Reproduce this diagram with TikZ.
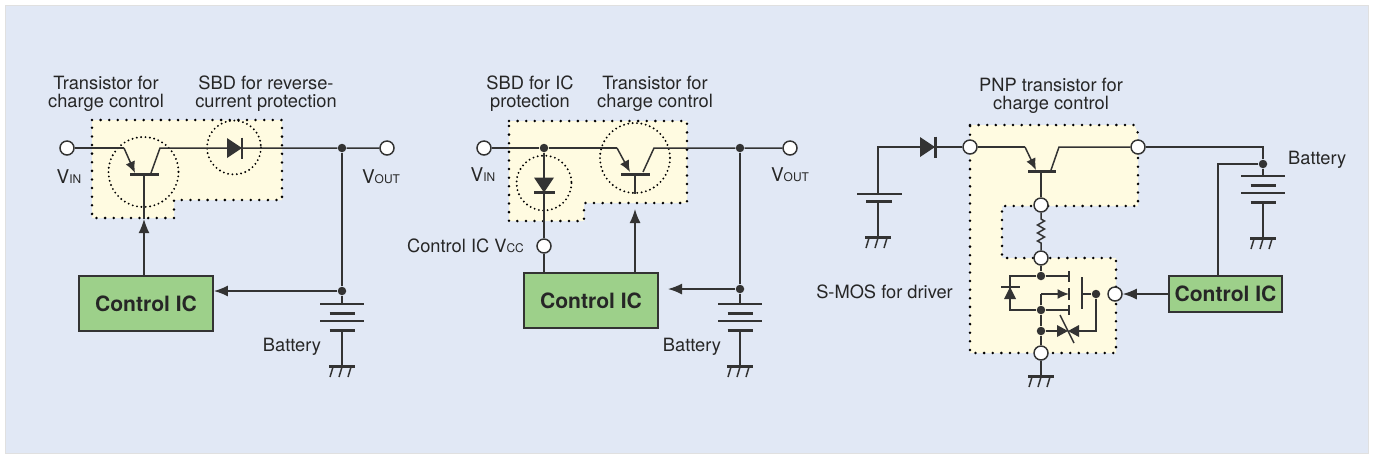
\documentclass[tikz,border=0pt]{standalone}
\usepackage{fontspec}
\setmainfont{TeX Gyre Heros}
\usetikzlibrary{arrows.meta}

\definecolor{bgblue}{HTML}{E1E8F5}
\definecolor{padyellow}{HTML}{FFFBE1}
\definecolor{icgreen}{HTML}{9DD08A}
\definecolor{wirec}{HTML}{333333}

\newcommand{\vsub}[1]{{\fontsize{10.8}{12}\selectfont V}{\fontsize{6.8}{7}\selectfont #1}}

\tikzset{
  wire/.style={draw=wirec, line width=0.85pt},
  plate/.style={draw=wirec, line width=1.7pt},
  pad/.style={fill=padyellow, draw=black, line width=1.6pt, dash pattern=on 0pt off 4.9pt, line cap=round},
  ring/.style={draw=black, line width=1.2pt, dash pattern=on 0pt off 2.5pt, line cap=round},
  term/.style={circle, draw=wirec, fill=white, line width=0.85pt, minimum size=0.28cm, inner sep=0pt},
  dot/.style={circle, fill=wirec, minimum size=0.17cm, inner sep=0pt},
  icbox/.style={draw=wirec, fill=icgreen, line width=1pt, minimum width=2.68cm, minimum height=1.1cm,
    font=\fontsize{12}{14}\selectfont\bfseries, text=black!85},
  lbl/.style={font=\fontsize{10.4}{10.4}\selectfont, text=black!85, align=center},
  sig/.style={wire, -{Latex[length=2.8mm,width=2.2mm]}},
  emit/.style={wire, -{Latex[length=2.3mm,width=2mm]}},
  gnd/.pic={
    \draw[plate] (-13,0) -- (13,0);
    \draw[wire] (-9,1) -- (-12,11) (0,1) -- (-3,11) (9,1) -- (6,11);
  },
  cells/.pic={
    \draw[wire] (-22,0) -- (22,0) (-22,17) -- (22,17);
    \draw[plate] (-12.5,9) -- (12.5,9) (-12.5,26) -- (12.5,26);
  },
  diode/.pic={
    \fill[wirec] (-7.5,-10) -- (7.5,0) -- (-7.5,10) -- cycle;
    \draw[plate] (7.5,-10.5) -- (7.5,10.5);
  },
}

\begin{document}
\begin{tikzpicture}[x=0.02cm, y=-0.02cm]
  \useasboundingbox (0,0) rectangle (1373,458);
  % Background
  \draw[fill=bgblue, draw=black!12] (5,5) rectangle (1368,453);

  % ---------------- Left circuit ----------------
  \draw[pad] (92,120) -- (282,120) -- (282,200) -- (174,200) -- (174,218) -- (92,218) -- cycle;
  \draw[ring] (143.5,172) circle[radius=35];
  \draw[ring] (234,147.5) circle[radius=27];

  \node[term] (vin1) at (67,148) {};
  \node[term] (vout1) at (387,148) {};
  \node[dot] (j1) at (342,148) {};
  \node[dot] (j2) at (342,291) {};
  \node[icbox] (ic1) at (146,303.5) {Control IC};
  \coordinate (e1) at (124,148);
  \coordinate (eb1) at (135,173);
  \coordinate (cb1) at (151,173);
  \coordinate (c1) at (160,148);
  \coordinate (b1) at (144,174);

  % Transistor for charge control
  \draw[wire] (vin1) -- (e1);
  \draw[emit] (e1) -- (eb1);
  \draw[wire] (cb1) -- (c1) -- (j1) -- (vout1);
  \draw[plate] (130,174) -- (159,174);
  \draw[sig] (b1 |- ic1.north) -- (144,219) coordinate (a1);
  \draw[wire] (a1) -- (b1);
  % SBD
  \pic at (234.5,148) {diode};
  % Battery
  \draw[wire] (j1) -- (j2) -- (342,304);
  \draw[sig] (j2) -- (j2 -| ic1.east);
  \pic at (342,304) {cells};
  \draw[wire] (342,330) -- (342,366);
  \pic at (342,366) {gnd};

  \node[lbl] (t1) at (106,94) {Transistor for\\charge control};
  \node[lbl] (s1) at (266,94) {SBD for reverse-\\current protection};
  \node[lbl] (vinl1) at (69,177) {\vsub{IN}};
  \node[lbl] (voutl1) at (381,177) {\vsub{OUT}};
  \node[lbl] (bat1) at (292,347) {Battery};

  % ---------------- Middle circuit ----------------
  \draw[pad] (509,121) -- (687,121) -- (687,203) -- (584,203) -- (584,221) -- (509,221) -- cycle;
  \draw[ring] (544,183) circle[radius=27.5];
  \draw[ring] (635,158) circle[radius=35];

  \node[term] (vin2) at (484,148) {};
  \node[term] (vout2) at (790,148) {};
  \node[term] (vcc) at (544,246) {};
  \node[dot] (j3) at (544,148) {};
  \node[dot] (j4) at (740,148) {};
  \node[dot] (j5) at (740,289) {};
  \node[icbox] (ic2) at (591,300.5) {Control IC};
  \coordinate (e2) at (617,148);
  \coordinate (eb2) at (630,172);
  \coordinate (cb2) at (643,172);
  \coordinate (c2) at (654,148);
  \coordinate (b2) at (635,174);

  \draw[wire] (vin2) -- (j3) -- (e2);
  \draw[emit] (e2) -- (eb2);
  \draw[wire] (cb2) -- (c2) -- (j4) -- (vout2);
  \draw[plate] (621,174) -- (650,174);
  \draw[wire] (b2) -- (635,194);
  \draw[sig] (b2 |- ic2.north) -- (635,209);
  % SBD for IC protection
  \draw[wire] (j3) -- (vcc) -- (vcc |- ic2.north);
  \pic[rotate=-90] at (544,185) {diode};
  % Battery
  \draw[wire] (j4) -- (j5) -- (740,304);
  \draw[sig] (j5) -- (668,289);
  \pic at (740,304) {cells};
  \draw[wire] (740,330) -- (740,366);
  \pic at (740,366) {gnd};

  \node[lbl] (s2) at (530,94) {SBD for IC\\protection};
  \node[lbl] (t2) at (655,94) {Transistor for\\charge control};
  \node[lbl] (vinl2) at (483,175) {\vsub{IN}};
  \node[lbl] (voutl2) at (790,175) {\vsub{OUT}};
  \node[lbl, anchor=east] (vccl) at (530,246) {Control IC V{\fontsize{6.8}{7}\selectfont CC}};
  \node[lbl] (bat2) at (692,347) {Battery};

  % ---------------- Right circuit ----------------
  \draw[pad] (970,125) -- (1134,125) -- (1138,133) -- (1138,206) -- (1002,206) -- (1002,258)
    -- (1116,258) -- (1116,353) -- (970,353) -- cycle;

  \node[term] (ta) at (970,147) {};
  \node[term] (tb) at (1138,147) {};
  \node[term] (tc) at (1041,205) {};
  \node[term] (td) at (1041,258) {};
  \node[term] (te) at (1115,294) {};
  \node[term] (tf) at (1041,353) {};
  \node[dot] (d3) at (1041,276) {};
  \node[dot] (s3) at (1041,310) {};
  \node[dot] (z3) at (1041,331) {};
  \node[dot] (g3) at (1096,294) {};
  \node[dot] (j6) at (1263,164) {};
  \node[icbox, minimum width=2.26cm, minimum height=0.72cm] (ic3) at (1225.5,294) {Control IC};

  % Input cell and diode
  \draw[wire] (878,194) -- (878,147) -- (920,147);
  \pic at (927.5,147) {diode};
  \draw[wire] (935,147) -- (ta);
  \draw[wire] (857,194) -- (902,194);
  \draw[plate] (866,201) -- (892,201);
  \draw[wire] (878,201) -- (878,237);
  \pic at (878,237) {gnd};

  % PNP transistor for charge control
  \coordinate (e3) at (1025,147);
  \coordinate (eb3) at (1036,170);
  \coordinate (cb3) at (1051,170);
  \coordinate (c3) at (1059,147);
  \coordinate (b3) at (1041,171);
  \draw[wire] (ta) -- (e3);
  \draw[emit] (e3) -- (eb3);
  \draw[wire] (cb3) -- (c3) -- (tb);
  \draw[plate] (1028,171) -- (1056,171);
  \draw[wire] (b3) -- (tc);
  % Resistor
  \draw[wire] (tc) -- (1041,219) -- (1044.5,221) -- (1037.5,225) -- (1044.5,229) -- (1037.5,233)
    -- (1044.5,237) -- (1037.5,241) -- (1041,243) -- (td);

  % S-MOS
  \draw[wire] (td) -- (d3) -- (1069,276);
  \draw[wire] (1069,271) -- (1069,282) (1069,288) -- (1069,300) (1069,305) -- (1069,315);
  \draw[wire] (s3) -- (1069,310);
  \draw[wire] (s3) -- (1041,294);
  \draw[emit] (1041,294) -- (1069,294);
  \draw[wire] (d3) -- (1010,276) -- (1010,310) -- (s3);
  \fill[wirec] (1010,287) -- (1004,299) -- (1016,299) -- cycle;
  \draw[plate, line width=1.3pt] (1001,287) -- (1020,287);
  \draw[wirec, line width=1.6pt] (1082,277) -- (1082,309);
  \draw[wire] (1082,294) -- (g3);
  \draw[wire] (g3) -- (1096,331) -- (1078,331);
  % Zener pair
  \draw[wire] (z3) -- (1057,331);
  \fill[wirec] (1057,325) -- (1068,331) -- (1057,337) -- cycle;
  \fill[wirec] (1079,325) -- (1068,331) -- (1079,337) -- cycle;
  \draw[wire] (1060,315) -- (1074,343);
  \draw[wire] (s3) -- (z3) -- (tf);
  \draw[wire] (tf) -- (1041,376);
  \pic at (1041,376) {gnd};

  % Battery and Control IC
  \draw[wire] (tb) -- (1263,147) -- (j6) -- (1263,176);
  \pic at (1263,176) {cells};
  \draw[wire] (1263,202) -- (1263,238);
  \pic at (1263,238) {gnd};
  \coordinate (k3) at (1218,164);
  \draw[wire] (j6) -- (k3) -- (k3 |- ic3.north);
  \draw[sig] (ic3.west) -- (te);

  \node[lbl] (t3) at (1051,96) {PNP transistor for\\charge control};
  \node[lbl, anchor=west] (bat3) at (1282,160) {Battery};
  \node[lbl, anchor=east] (mos) at (959,292) {S-MOS for driver};
\end{tikzpicture}
\end{document}
